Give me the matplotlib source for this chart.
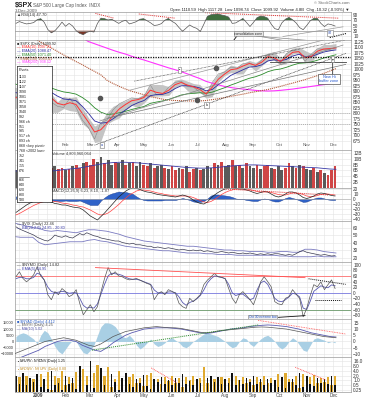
import matplotlib
matplotlib.use('Agg')
import matplotlib.pyplot as plt
import numpy as np
import pandas as pd

plt.rcParams['font.family'] = ['Liberation Sans', 'DejaVu Sans']

W, H = 367, 400

# ---------------- data ----------------
weeks = pd.date_range('2008-12-05', periods=53, freq='W-FRI')
days = pd.date_range('2008-12-07', '2009-12-03', periods=91)

spx_high = [919, 915, 918, 880, 934, 943, 890, 852, 877, 870, 876, 827, 780,
            742, 758, 803, 832, 845, 857, 870, 871, 888, 930, 931, 930, 920,
            951, 956, 946, 935, 931, 898, 942, 979, 996, 1019, 1013, 1027, 1040,
            1031, 1048, 1074, 1080, 1050, 1076, 1096, 1101, 1085, 1072, 1097,
            1113, 1112, 1117]
spx_low = [815, 837, 857, 857, 857, 888, 804, 804, 821, 812, 808, 754, 730,
           667, 672, 751, 767, 779, 814, 836, 826, 847, 877, 878, 879, 881,
           916, 931, 903, 889, 896, 869, 875, 941, 971, 985, 978, 979, 1017,
           992, 1016, 1039, 1041, 1020, 1025, 1069, 1072, 1030, 1029, 1069,
           1085, 1083, 1095]
spx_close = [876, 879, 888, 873, 932, 890, 850, 832, 826, 869, 827, 770, 735,
             683, 757, 769, 816, 843, 857, 870, 866, 877, 929, 883, 887, 919,
             940, 946, 921, 918, 896, 879, 940, 979, 987, 1010, 1005, 1026, 1029,
             1016, 1042, 1068, 1044, 1025, 1071, 1087, 1080, 1036, 1069, 1093,
             1091, 1091, 1100]
ema10 = [870, 872, 880, 877, 900, 905, 870, 845, 838, 848, 840, 800, 760,
         715, 725, 755, 790, 820, 840, 857, 862, 872, 905, 895, 890, 905,
         930, 940, 928, 920, 908, 888, 918, 955, 978, 998, 1002, 1015, 1026,
         1018, 1032, 1057, 1052, 1035, 1055, 1077, 1080, 1052, 1058, 1082,
         1092, 1094, 1097]
ema20 = [895, 890, 890, 888, 898, 902, 895, 878, 865, 862, 857, 832, 800,
         765, 755, 758, 775, 795, 815, 835, 848, 858, 880, 885, 886, 895,
         912, 925, 925, 922, 915, 902, 908, 930, 950, 972, 985, 998, 1010,
         1012, 1020, 1038, 1043, 1038, 1045, 1060, 1068, 1058, 1058, 1068,
         1078, 1084, 1088]
ema50 = [935, 925, 920, 915, 918, 920, 915, 905, 897, 893, 887, 872, 852,
         825, 805, 795, 797, 802, 809, 817, 824, 831, 845, 851, 856, 863,
         873, 883, 888, 891, 893, 891, 896, 906, 916, 928, 938, 949, 959,
         966, 976, 989, 997, 1001, 1009, 1019, 1027, 1029, 1033, 1041, 1051,
         1059, 1066]
ma_long = [1185, 1170, 1156, 1142, 1128, 1113, 1097, 1081, 1065, 1050, 1035,
           1021, 1005, 990, 975, 950, 935, 922, 910, 900, 892, 884, 876, 870,
           864, 860, 858, 857, 856, 856, 856, 858, 862, 866, 871, 877, 882,
           887, 893, 898, 903, 908, 915, 922, 930, 937, 945, 953, 962, 971,
           981, 992, 1003]
sma200 = [1300, 1288, 1276, 1263, 1250, 1236, 1222, 1207, 1192, 1176, 1160,
          1143, 1126, 1116, 1106, 1096, 1086, 1077, 1069, 1059, 1050, 1042,
          1033, 1024, 1015, 1006, 998, 989, 979, 968, 958, 945, 937, 929, 922,
          917, 913, 910, 907, 904, 902, 901, 902, 904, 907, 910, 914, 918, 922,
          926, 930, 934, 938]

rsi = [58, 65, 60, 56, 58, 61, 72, 76, 62, 35, 22, 30, 45, 63, 47, 58, 48, 30,
       20, 15, 24, 28, 25, 58, 78, 76, 71, 74, 66, 58, 66, 70, 56, 60, 65, 74,
       76, 68, 60, 50, 52, 57, 70, 77, 66, 58, 42, 28, 40, 52, 44, 39, 27, 55,
       85, 91, 93, 94, 90, 87, 82, 58, 60, 68, 77, 62, 46, 62, 80, 86, 84, 78,
       55, 38, 34, 60, 74, 81, 72, 60, 42, 34, 50, 68, 77, 77, 58, 46, 56, 53,
       48]

volume = [6.0, 5.5, 6.5, 5.0, 3.5, 4.0, 5.5, 6.0, 5.5, 6.5, 7.0,
          7.5, 6.5, 7.0, 6.0, 6.5, 7.5, 8.0, 7.0, 8.5, 9.0, 8.0, 10.0,
          9.0, 10.5, 8.5, 9.5, 8.0, 9.0, 8.5, 9.5,
          8.0, 8.5, 9.0, 7.5, 9.0, 8.0, 7.5, 8.5, 7.0, 7.5,
          8.0, 7.0, 6.5, 7.5, 6.0, 7.0, 6.5, 7.5, 5.5, 6.5, 7.0, 6.0,
          6.5, 7.5, 7.0, 8.5, 8.0, 9.0, 7.5, 8.0, 9.5, 7.5, 8.0, 7.0, 8.5,
          7.5, 7.0, 8.0, 6.5, 7.5, 8.0, 7.0, 6.5, 7.5, 6.0, 7.0, 8.5, 7.5,
          7.0, 8.0, 7.5, 6.5, 6.0, 7.0, 5.5, 6.0, 5.0, 4.5, 6.0, 7.5]
vol_up = [1, 0, 1, 1, 0, 0, 1, 0, 1, 0,
          0, 1, 0, 0, 1, 0, 1, 0, 0, 1,
          0, 0, 0, 1, 1, 0, 1, 1, 0, 1,
          1, 0, 1, 0, 1, 1, 0, 0, 1, 0,
          1, 1, 0, 1, 0, 0, 1, 0, 1, 0,
          0, 1, 0, 1, 1, 1, 0, 1, 0, 1,
          1, 0, 1, 0, 1, 0, 1, 1, 0, 1,
          0, 0, 1, 0, 1, 1, 0, 0, 1, 0,
          1, 0, 1, 1, 0, 1, 0, 1, 0, 0,
          0]
vol_ma = [5.8, 5.8, 5.7, 5.6, 5.5, 5.6, 5.8, 6.0, 6.3, 6.5, 6.7, 7.0, 7.4,
          7.8, 8.2, 8.5, 8.7, 8.8, 8.8, 8.7, 8.6, 8.4, 8.2, 8.0, 7.8, 7.6,
          7.4, 7.2, 7.0, 6.9, 6.8, 6.8, 6.9, 7.1, 7.3, 7.5, 7.7, 7.8, 7.9,
          7.9, 7.8, 7.7, 7.6, 7.5, 7.4, 7.3, 7.2, 7.1, 7.0, 6.9, 6.7, 6.5, 6.4]

macd = [-27, -22, -17, -12, -8, -5, -3, -2, -2, -4, -6, -9, -10, -12, -12,
        -14, -16, -17, -18, -22, -28, -34, -38, -42, -35, -28, -20, -12, -4,
        4, 10, 16, 20, 22, 21, 19, 16, 14, 13, 11, 9, 8, 7, 6, 5, 4, 6, 8, 6,
        3, -2, -6, -9, -10, -6, 2, 8, 13, 17, 20, 22, 22, 21, 20, 20, 18, 16,
        13, 11, 13, 15, 14, 10, 6, 4, 6, 10, 14, 14, 12, 8, 3, 1, 3, 6, 10,
        12, 11, 9, 7, 6]
macd_signal = [-32, -29, -25, -21, -17, -13, -10, -7, -5, -4, -4, -5, -6, -8,
               -9, -10, -12, -13, -15, -16, -19, -22, -26, -30, -32, -31, -28,
               -23, -17, -11, -4, 2, 8, 12, 16, 18, 18, 17, 16, 14, 12, 11, 9,
               8, 7, 6, 6, 6, 6, 5, 3, 0, -3, -6, -7, -5, -1, 4, 9, 13, 16, 18,
               20, 20, 20, 20, 19, 17, 15, 14, 14, 14, 13, 11, 9, 8, 8, 10, 12,
               12, 11, 9, 6, 5, 5, 7, 9, 10, 10, 9, 8]
macd_hist = [5, 7, 8, 9, 9, 8, 7, 5, 3, 0, -2, -4, -4, -4, -3, -4, -4, -4, -3,
             -6, -9, -12, -12, -12, -3, 3, 8, 11, 13, 15, 14, 14, 12, 10, 5, 1,
             -2, -3, -3, -3, -3, -3, -2, -2, -2, -2, 0, 2, 0, -2, -5, -6, -6,
             -4, 1, 7, 9, 9, 8, 7, 6, 4, 1, 0, 0, -2, -3, -4, -4, -1, 1, 0, -3,
             -5, -5, -2, 2, 4, 2, 0, -3, -6, -5, -2, 1, 3, 3, 1, -1, -2, -2]

vix = [61, 58, 56, 54, 52, 50, 47, 45, 43, 42, 45, 50, 48, 47, 49, 47, 46, 49,
       52, 50, 53, 51, 49, 48, 46, 45, 44, 43, 42, 42, 40, 39, 38, 39, 37, 37,
       36, 35, 35, 33, 34, 33, 32, 33, 32, 31, 30, 31, 30, 29, 30, 29, 30, 28,
       29, 28, 27, 27, 28, 27, 26, 27, 26, 25, 26, 25, 26, 25, 24, 25, 24, 25,
       24, 25, 25, 24, 23, 24, 23, 25, 28, 29, 27, 26, 25, 24, 23, 24, 23, 22,
       22.5]
bb_upper = [66, 64, 62, 60, 59, 56, 55, 56, 55, 54, 53, 55, 57, 57, 56, 55,
            53, 51, 48, 46, 44, 42, 41, 40, 39, 38, 37, 36, 35, 35, 34, 33, 32,
            31, 30, 30, 29, 29, 28, 28, 28, 27, 27, 28, 28, 27, 27, 31, 31, 30,
            28, 27, 26]
bb_lower = [48, 47, 47, 47, 40, 37, 38, 39, 40, 41, 41, 41, 43, 44, 42, 41,
            39, 37, 35, 34, 33, 32, 31, 30, 29, 29, 28, 27, 26, 26, 26, 25, 25,
            24, 24, 24, 23, 23, 23, 23, 23, 23, 23, 22, 22, 21, 21, 21, 21, 22,
            21, 21, 21]

nymo = [57, 75, 51, 39, 50, 64, 93, 60, 46, -7, -25, 4, -7, 15, 4, -14, -7, 11,
        -38, -79, -61, -43, -68, -50, 4, 51, 90, 64, 75, 60, 57, 50, 46, 48, 51,
        45, 39, 33, 29, -25, -5, 4, -7, 11, 5, -2, -38, -50, -56, -20, -32, -20,
        -7, 29, 45, 57, 69, 57, 55, 51, 15, -20, -38, -7, 4, -10, -25, -43, -7,
        39, 57, 40, 21, -32, -40, -43, -20, -14, 11, -5, -20, -86, -56, -10, 29,
        21, 39, 11, 29, 46, 15]
nymo_ema = [50, 55, 55, 50, 50, 55, 70, 65, 45, 20, 5, 0, 2, 5, 3, -2, 0, 0,
            -20, -45, -55, -52, -55, -40, -5, 30, 60, 70, 68, 66, 62, 55, 50,
            48, 48, 45, 40, 35, 30, 10, 0, 0, -2, 3, 3, 0, -15, -35, -45, -35,
            -30, -22, -10, 10, 35, 50, 60, 58, 55, 50, 30, 0, -10, -5, -5, -15,
            -25, -20, 10, 35, 42, 30, 5, -20, -30, -32, -25, -15, -2, -5, -15,
            -55, -60, -30, 5, 15, 25, 20, 18, 28, 25]

breadth_hist = [4000, 6000, 7000, 6000, 4000, 2000, -2000, 5000, 9000, 7000,
                2000, -4000, -8000, -10000, -6000, -2000, 1000, 0, -5000, -9000,
                -10000, -7000, -3000, 5000, 12000, 15000, 15000, 14000, 12000,
                8000, 4000, 3000, 5000, 2000, -3000, -6000, -4000, -1000, 2000,
                -2000, -4000, -3000, -1000, 2000, 3000, 1000, -1000, -4000,
                -5000, -3000, 0, 2000, 4000, 6000, 7000, 6000, 5000, 4000, 2000,
                0, -3000, -5000, -4000, 0, 3000, 2000, -2000, -4000, -1000,
                2000, 4000, 5000, 3000, 0, -4000, -6000, -4000, 0, 3000, 1000,
                -3000, -7000, -8000, -3000, 2000, 3000, 2000, 1000, -1000, 0,
                -1000]
breadth_line = [-10, -8, -6, -4, -2, 0, 1, 2, 3, 2, 1, -1, -3, -4, -2, 1, 4,
                6, 8, 9, 10, 11, 11.5, 12, 11.5, 11, 11, 10.5, 9.5, 8.5, 7.5, 7,
                7.5, 8.5, 9, 9.5, 10, 10.5, 11, 11.5, 11.7, 11.5, 11, 10.5, 10,
                9, 8, 7, 6, 5, 4, 3.5, 3]
breadth_ma = [-15, -13, -11, -9, -7, -4, -2, 0, 1, 1, 0, -3, -5, -7, -8, -5,
              -1, 2, 5, 7, 8.5, 10, 10.5, 11, 11, 11, 10.5, 10, 9, 8, 7, 6.5,
              7, 8, 9, 10, 10.5, 11, 12, 12.5, 13, 13.3, 13, 12.5, 12, 11, 10,
              8.5, 7, 6, 5, 4, 3.6]

upv_ratio = [2.0, 0.6, 3.0, 0.5, 1.5, 0.8, 2.5, 0.4, 1.2, 0.3, 4.0, 0.5, 0.7,
             0.25, 1.8, 0.6, 1.4, 0.3, 8.0, 0.2, 0.5, 16.0, 0.35, 0.12, 6.0,
             0.5, 0.15, 2.5, 0.8, 0.25, 1.5, 3.0, 0.6, 0.4, 1.3, 0.7, 2.2,
             0.45, 0.3, 1.2, 0.8, 1.6, 0.6, 1.1, 0.5, 1.4, 0.7, 2.5, 0.6, 0.9,
             0.5, 1.2, 0.7, 0.15, 1.5, 2.0, 0.8, 1.6, 0.6, 1.3, 0.7, 2.8, 0.5,
             1.0, 0.6, 1.4, 0.8, 1.8, 0.6, 1.2, 0.5, 1.3, 0.7, 1.1, 0.4, 1.6,
             0.35, 0.8, 1.2, 0.5, 3.0, 0.4, 1.8, 0.6, 0.45, 1.5, 0.7, 1.2, 0.6,
             2.0, 0.5]
dnv_ratio = [0.5, 1.7, 0.33, 2.0, 0.67, 1.25, 0.4, 2.5, 0.8, 3.5, 0.25, 2.0,
             1.4, 4.0, 0.55, 1.6, 0.7, 3.5, 0.12, 5.0, 2.0, 0.06, 3.0, 9.0,
             0.17, 2.0, 6.5, 0.4, 1.25, 4.0, 0.67, 0.33, 1.6, 2.5, 0.75, 1.4,
             0.45, 2.2, 3.0, 0.8, 1.25, 0.6, 1.7, 0.9, 2.0, 0.7, 1.4, 0.4, 1.6,
             1.1, 2.0, 0.8, 1.4, 7.0, 0.67, 0.5, 1.2, 0.6, 1.6, 0.75, 1.4, 0.36,
             2.0, 1.0, 1.6, 0.7, 1.2, 0.55, 1.6, 0.8, 2.0, 0.75, 1.4, 0.9, 2.5,
             0.6, 2.8, 1.2, 0.8, 2.0, 0.33, 2.5, 0.55, 1.6, 2.2, 0.67, 1.4, 0.8,
             1.6, 0.5, 2.0]

pivots = ['1133', '1122', '1107', '1090', '1081', '1071', '1058', '1040',
          '992', '966 ch', '951', '935', '917 ch', '893 ch', '868 <key pivot>',
          '768 <2002 low>', '752', '741', '715', '676', '666', '640', '620',
          '600', '580']

month_starts = pd.date_range('2009-01-01', '2009-12-01', freq='MS')
month_labels = ['2009', 'Feb', 'Mar', 'Apr', 'May', 'Jun', 'Jul', 'Aug',
                'Sep', 'Oct', 'Nov', 'Dec']

# ---------------- figure ----------------
fig = plt.figure(figsize=(W / 100, H / 100), dpi=100)
fig.patch.set_facecolor('white')

L, R = 15, 351
x0 = pd.Timestamp('2008-12-06')
x1 = pd.Timestamp('2009-12-20')
minor_grid = [m + pd.Timedelta(days=d)
              for m in pd.date_range('2008-12-01', '2009-12-01', freq='MS')
              for d in (10, 20)]
TXT = '#333333'


def panel(top, bot):
    ax = fig.add_axes([L / W, 1 - bot / H, (R - L) / W, (bot - top) / H])
    ax.set_xlim(x0, x1)
    ax.yaxis.tick_right()
    ax.tick_params(axis='y', labelsize=3.4, length=0, pad=1.5, colors=TXT)
    ax.set_xticks(month_starts)
    ax.set_xticks(minor_grid, minor=True)
    ax.tick_params(axis='x', which='both', length=0, labelbottom=False)
    ax.grid(True, which='both', color='#e3e3e3', lw=0.4)
    ax.set_axisbelow(True)
    for s in ax.spines.values():
        s.set_color('#9a9a9a')
        s.set_linewidth(0.5)
    return ax


# ---- header
fig.text(15 / W, 1 - 5 / H, '$SPX', fontsize=5.0, fontweight='bold',
         color='#222222', va='center')
fig.text(33 / W, 1 - 5 / H, 'S&P 500 Large Cap Index  INDX', fontsize=3.3,
         color='#555555', va='center')
fig.text(15 / W, 1 - 10.5 / H, '3-Dec-2009', fontsize=3.2, color='#555555',
         va='center')
fig.text(350 / W, 1 - 3.5 / H, '\u00a9 StockCharts.com', fontsize=3.0,
         color='#666666', va='center', ha='right')
fig.text(350 / W, 1 - 9.5 / H,
         'Open 1110.59  High 1117.28  Low 1098.74  Close 1099.92  '
         'Volume 4.8B  Chg -10.32 (-0.93%) \u25bc', fontsize=3.1,
         color='#222222', va='center', ha='right')

# ---- RSI
ax1 = panel(12, 40)
ax1.set_ylim(-5.3, 101.5)
ax1.set_yticks([10, 30, 50, 70, 90])
r = np.array(rsi, dtype=float)
ax1.axhline(70, color='#9a9a9a', lw=0.5)
ax1.axhline(30, color='#9a9a9a', lw=0.5)
ax1.fill_between(days, r, 70, where=r > 70, interpolate=True,
                 color='#3f6f3f', lw=0)
ax1.fill_between(days, r, 30, where=r < 30, interpolate=True,
                 color='#7a3525', lw=0)
ax1.plot(days, r, color='#555555', lw=0.5)
for (d0, v0), (d1, v1) in [(('2009-03-07', 96), ('2009-03-28', 78)),
                           (('2009-04-25', 94), ('2009-06-05', 78)),
                           (('2009-07-09', 99), ('2009-12-07', 78))]:
    ax1.plot([pd.Timestamp(d0), pd.Timestamp(d1)], [v0, v1], color='#e03030',
             lw=0.7, ls=(0, (1, 1)))
ax1.plot([pd.Timestamp('2009-10-05'), pd.Timestamp('2009-12-12')], [8, 45],
         color='#999999', lw=0.5)
ax1.plot([pd.Timestamp('2009-11-27'), pd.Timestamp('2009-12-16')], [4, 20],
         color='#111111', lw=0.8, ls=(0, (1, 1)), clip_on=False)
ax1.plot([pd.Timestamp('2009-08-08'), pd.Timestamp('2009-08-14')], [-17, 10],
         color='#111111', lw=0.6, clip_on=False)
ax1.plot([pd.Timestamp('2009-08-30'), pd.Timestamp('2009-10-28')], [14, -20],
         color='#888888', lw=0.5, clip_on=False)
ax1.plot([pd.Timestamp('2009-09-05'), pd.Timestamp('2009-12-10')], [10, -18],
         color='#888888', lw=0.5, clip_on=False)
ax1.text(pd.Timestamp('2009-08-27'), 19, 'consolidation zone', fontsize=2.4,
         color='#222222', ha='center', va='center', zorder=5,
         bbox=dict(boxstyle='square,pad=0.2', fc='#e8e8e8', ec='#777777',
                   lw=0.4))
ax1.text(pd.Timestamp('2009-11-27'), 22, 'ST', fontsize=2.4, color='#2244aa',
         ha='center', va='center', zorder=5,
         bbox=dict(boxstyle='square,pad=0.2', fc='white', ec='#777777', lw=0.4))
ax1.text(0.005, 0.97, '\u25b2RSI(14) 47.70', transform=ax1.transAxes,
         fontsize=3.0, color=TXT, va='top')

# ---- price
ax2 = panel(40, 150)
ax2.set_ylim(633, 1133)
ax2.set_yticks(np.arange(675, 1126, 25))
ax2.set_xticklabels([''] + month_labels[1:])
ax2.tick_params(axis='x', labelbottom=True, labelsize=3.2, pad=-5,
                colors='#555555')
ax2.fill_between(weeks, spx_low, spx_high, color='#c4c4c4', lw=0)
ax2.plot(weeks, spx_close, color='#8a8a8a', lw=0.4)
ax2.plot(weeks, sma200, color='#ff33ff', lw=0.8)
ax2.plot(weeks, ma_long, color='#b25a3a', lw=0.8, ls=(0, (1, 0.8)))
ax2.plot(weeks, ema50, color='#2a8a2a', lw=0.6)
ax2.plot(weeks, ema20, color='#2a2aa0', lw=0.6)
ax2.plot(weeks, ema10, color='#ff3333', lw=0.7)
ax2.axhline(1054, color='#111111', lw=0.9, ls=(0, (1, 1)))
ax2.axhline(801, color='#999999', lw=0.6, ls=(0, (1, 1.5)))
ax2.axhline(751, color='#999999', lw=0.6, ls=(0, (1, 1.5)))
ax2.plot([pd.Timestamp('2009-09-20'), pd.Timestamp('2009-12-15')], [1032, 1032],
         color='#444444', lw=0.6)
for (d0, v0), (d1, v1), c, ls in [
        (('2009-03-06', 655), ('2009-12-15', 1072), '#111111', (0, (1, 1))),
        (('2009-03-12', 765), ('2009-12-12', 1110), '#888888', '-'),
        (('2009-04-15', 905), ('2009-11-20', 1133), '#999999', '-'),
        (('2009-04-20', 946), ('2009-12-15', 1133), '#333333', (0, (1, 1))),
        (('2009-03-21', 778), ('2009-12-15', 1022), '#777777', '-')]:
    ax2.plot([pd.Timestamp(d0), pd.Timestamp(d1)], [v0, v1], color=c, lw=0.5,
             ls=ls)
ax2.scatter([pd.Timestamp('2009-03-12'), pd.Timestamp('2009-06-30'),
             pd.Timestamp('2009-07-21')], [871, 862, 1006], s=9,
            color='#555555', zorder=4)
box = dict(boxstyle='square,pad=0.25', fc='white', ec='#777777', lw=0.4)
for d, v, t, c in [('2009-06-10', 998, '\u25aa', '#333333'),
                   ('2009-07-11', 839, 'b.', '#333333'),
                   ('2009-03-14', 657, 'a', '#2244aa'),
                   ('2009-11-30', 1047, '\u25be', '#333333')]:
    ax2.text(pd.Timestamp(d), v, t, fontsize=2.6, color=c, ha='center',
             va='center', bbox=box, zorder=5)
ax2.plot([pd.Timestamp('2009-11-30'), pd.Timestamp('2009-11-30')], [1040, 975],
         color='#222222', lw=0.5)
ax2.text(pd.Timestamp('2009-11-26'), 955, 'New Hi\nbuffer zone', fontsize=2.8,
         color='#2255cc', ha='center', va='center', linespacing=1.1, zorder=5,
         bbox=dict(boxstyle='square,pad=0.3', fc='white', ec='#555555',
                   lw=0.5))
legend_rows = [('\u25a0 $SPX (Daily) 1099.92', '#333333'),
               ('\u2014 EMA(10) 1097.21', '#ff3333'),
               ('\u2014 EMA(20) 1088.47', '#2a2aa0'),
               ('\u2014 EMA(50) 1071.40', '#2a8a2a'),
               ('-- EMA(150) 1003.41', '#b25a3a'),
               ('\u2014 SMA(200) 938.12', '#ff33ff')]
for k, (t, c) in enumerate(legend_rows):
    ax2.text(0.005, 0.985 - k * 0.034, t, transform=ax2.transAxes,
             fontsize=2.7, color=c, va='top')

# ---- volume
ax3 = panel(150, 188)
ax3.set_ylim(0, 13)
ax3.set_yticks([2, 4, 6, 8, 10, 12])
ax3.set_yticklabels(['2B', '4B', '6B', '8B', '10B', '12B'])
vol_colors = ['#5a5a5a' if u else '#d04545' for u in vol_up]
ax3.bar(days, volume, width=3.2, color=vol_colors, lw=0)
ax3.plot(weeks, vol_ma, color='#3a3aa8', lw=0.6)
ax3.text(0.11, 0.97, 'Volume 4,803,960,064', transform=ax3.transAxes,
         fontsize=2.8, color=TXT, va='top')

# ---- MACD
ax4 = panel(188, 221)
ax4.set_ylim(-44, 22)
ax4.set_yticks([-40, -30, -20, -10, 0, 10, 20])
ax4.axhline(0, color='#aaaaaa', lw=0.4)
ax4.fill_between(days, 0, macd_hist, color='#2f62c8', ec='#1c3f8f', lw=0.3)
ax4.plot(days, macd_signal, color='#ff4040', lw=0.5)
ax4.plot(days, macd, color='#222222', lw=0.5)
ax4.plot([pd.Timestamp('2009-07-13'), pd.Timestamp('2009-11-26')], [22, 8],
         color='#e03030', lw=0.7, ls=(0, (1, 1)))
ax4.text(0.11, 0.97, 'MACD(12,26,9) 6.23, 8.10, -1.87', transform=ax4.transAxes,
         fontsize=2.8, color=TXT, va='top')

# ---- VIX
ax5 = panel(221, 262)
ax5.set_ylim(14, 68.7)
ax5.set_yticks([20, 30, 40, 50, 60])
ax5.plot(weeks, bb_upper, color='#7a7ac0', lw=0.6)
ax5.plot(weeks, bb_lower, color='#7a7ac0', lw=0.6)
ax5.plot(days, vix, color='#3a3a50', lw=0.5)
ax5.text(0.005, 0.97, '\u2014 $VIX (Daily) 22.46', transform=ax5.transAxes,
         fontsize=2.8, color=TXT, va='top')
ax5.text(0.005, 0.87, '\u2014 BB(20,2.0) 24.85 - 20.80', transform=ax5.transAxes,
         fontsize=2.8, color='#3a3aa8', va='top')

# ---- NYMO
ax6 = panel(262, 319)
ax6.set_ylim(-94, 110)
ax6.set_yticks(np.arange(-80, 101, 20))
ax6.axhline(60, color='#ff7070', lw=0.6)
ax6.axhline(0, color='#7a7ae0', lw=0.6)
ax6.axhline(-60, color='#6a9a6a', lw=0.6)
ax6.plot(days, nymo_ema, color='#5a5ab0', lw=0.6)
ax6.plot(days, nymo, color='#555555', lw=0.5)
ax6.plot([pd.Timestamp('2009-03-07'), pd.Timestamp('2009-10-30')], [90, 54],
         color='#ff5050', lw=0.6)
ax6.plot([pd.Timestamp('2009-11-03'), pd.Timestamp('2009-12-15')], [50, 30],
         color='#111111', lw=0.7, ls=(0, (1, 1)))
ax6.plot([pd.Timestamp('2009-11-10'), pd.Timestamp('2009-12-10')], [-25, -25],
         color='#111111', lw=0.7, ls=(0, (1, 1)))
ax6.plot([pd.Timestamp('2009-09-30'), pd.Timestamp('2009-10-30')], [-88, -82],
         color='#111111', lw=0.6)
ax6.text(pd.Timestamp('2009-09-12'), -88, 'Oct 30 extreme low', fontsize=2.3,
         color='#2255cc', ha='center', va='center', zorder=5,
         bbox=dict(boxstyle='square,pad=0.2', fc='#eeeeee', ec='#777777',
                   lw=0.4))
ax6.text(0.005, 0.985, '\u2014 $NYMO (Daily) 14.82', transform=ax6.transAxes,
         fontsize=2.8, color=TXT, va='top')
ax6.text(0.005, 0.915, '\u2014 EMA(5) 24.95', transform=ax6.transAxes,
         fontsize=2.8, color='#3a3aa8', va='top')

# ---- breadth
ax7 = panel(319, 357)
ax7.yaxis.tick_left()
ax7.tick_params(axis='y', labelsize=2.9, pad=0.8)
ax7.set_ylim(-12500, 18100)
ax7.set_yticks([-10000, -5000, 0, 5000, 10000, 15000])
ax7.fill_between(days, 0, breadth_hist, color='#a9cfe4', lw=0)
ax7r = ax7.twinx()
ax7r.set_ylim(-12.5, 18.1)
ax7r.set_yticks([-10, -5, 0, 5, 10, 15])
ax7r.tick_params(axis='y', labelsize=3.4, length=0, pad=1.5, colors=TXT)
for s in ax7r.spines.values():
    s.set_visible(False)
ax7r.plot(weeks, breadth_ma, color='#5a5ab0', lw=0.6)
ax7r.plot(weeks, breadth_line, color='#555555', lw=0.5)
ax7r.plot([pd.Timestamp('2009-03-03'), pd.Timestamp('2009-09-07')], [-7, 13.3],
          color='#2a8a2a', lw=0.7, ls=(0, (1, 1)))
ax7r.plot([pd.Timestamp('2009-09-07'), pd.Timestamp('2009-12-15')], [17, 6],
          color='#ff5050', lw=0.6, ls=(0, (1, 1)))
for k, (t, c) in enumerate([('\u25a0 $NYAD (Daily) 4,412', '#2f62c8'),
                            ('\u2014 $NYSI (Daily) 4.25', '#555555'),
                            ('\u2014 MA(10) 5.02', '#5a5ab0')]):
    ax7r.text(0.005, 0.985 - k * 0.095, t, transform=ax7r.transAxes,
              fontsize=2.7, color=c, va='top')

# ---- up/down volume
ax8 = panel(357, 392)
ax8.set_yscale('log')
ax8.set_ylim(0.2, 26.7)
ax8.set_yticks([0.25, 0.5, 1, 2, 4, 8, 16])
ax8.set_yticklabels(['0.25', '0.5', '1.0', '2.0', '4.0', '8.0', '16.0'])
ax8.minorticks_off()
ax8.set_xticks(month_starts)
ax8.set_xticks(minor_grid, minor=True)
ax8.grid(True, which='both', axis='x', color='#e3e3e3', lw=0.4)
ax8.tick_params(axis='x', which='major', labelbottom=True, labelsize=3.3,
                pad=1, colors='#444444')
ax8.set_xticklabels(month_labels)
ax8.get_xticklabels()[0].set_fontweight('bold')
ax8.bar(days, dnv_ratio, width=2.6, color='#e0aa30', lw=0)
ax8.bar(days, upv_ratio, width=1.8, color='#111111', lw=0)
ax8.plot([pd.Timestamp('2009-05-09'), pd.Timestamp('2009-06-07')], [5.8, 0.73],
         color='#ff4040', lw=0.6, ls=(0, (1, 1)))
ax8.plot([pd.Timestamp('2009-10-19'), pd.Timestamp('2009-11-22')], [6.3, 1.1],
         color='#ff4040', lw=0.6, ls=(0, (1, 1)))
ax8.text(0.005, 0.995, '\u25aa $NYUPV:$NYDNV (Daily) 1.25',
         transform=ax8.transAxes, fontsize=2.5, color='#111111', va='top')
ax8.text(0.005, 0.76, '\u25aa $NYDNV:$NYUPV (Daily) 0.80',
         transform=ax8.transAxes, fontsize=2.5, color='#c08a20', va='top')

# ---- pivots box
axp = fig.add_axes([17 / W, 1 - 202 / H, 35 / W, 136 / H])
axp.set_facecolor('white')
axp.set_xticks([])
axp.set_yticks([])
for s in axp.spines.values():
    s.set_color('#222222')
    s.set_linewidth(0.5)
axp.text(0.05, (202 - 70) / 136, 'Pivots', fontsize=2.8, color='#222222',
         va='center', transform=axp.transAxes)
for k, t in enumerate(pivots):
    yy = 77 + k * 4.95 + (4 if k >= 20 else 0)
    axp.text(0.05, (202 - yy) / 136, t, fontsize=2.6, color='#222222',
             va='center', transform=axp.transAxes)
axp.plot([0.05, 0.35], [(202 - 177) / 136] * 2, color='#444444', lw=0.4,
         transform=axp.transAxes)

fig.savefig('out.png', dpi=100, facecolor='white')
